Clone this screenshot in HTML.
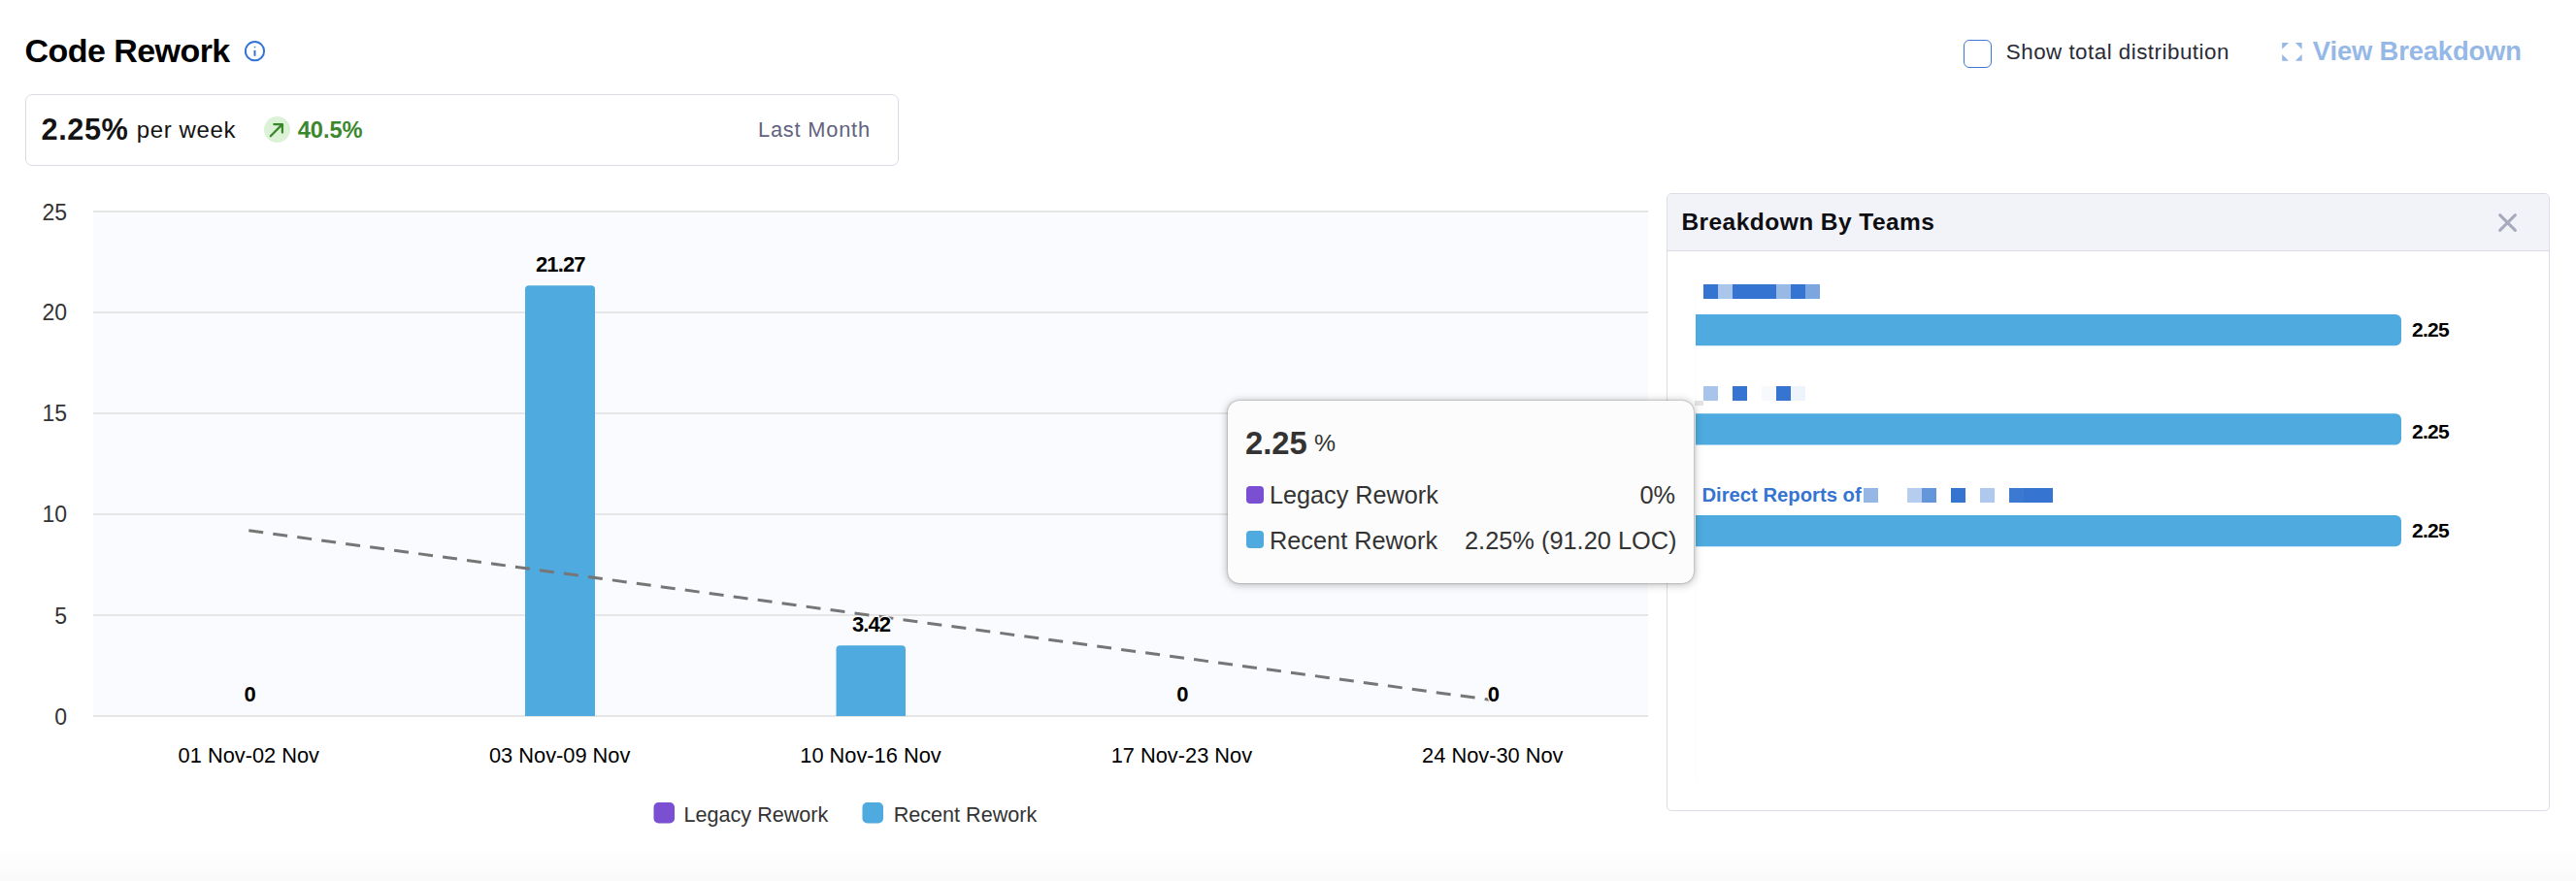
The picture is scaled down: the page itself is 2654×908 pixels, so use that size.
<!DOCTYPE html>
<html><head><meta charset="utf-8">
<style>
*{margin:0;padding:0;box-sizing:border-box}
html,body{width:2654px;height:908px;overflow:hidden;background:#fff;font-family:"Liberation Sans",sans-serif}
.a{position:absolute;white-space:nowrap;line-height:1}
</style></head><body>
<div id="root" style="position:relative;width:2654px;height:908px;background:linear-gradient(to bottom,#fff 0px,#fff 872px,#fafafb 908px)">

<!-- Title -->
<div class="a" id="title" style="left:25.60px;top:34.80px;font-size:34.00px;font-weight:bold;color:#000;letter-spacing:-0.560px">Code Rework</div>
<svg class="a" style="left:250px;top:40px" width="25" height="25" viewBox="0 0 25 25"><circle cx="12.5" cy="12.7" r="9.6" fill="none" stroke="#3574d4" stroke-width="2"/><path d="M11.7 8.4 L13.3 7.6 L13.3 9.1 L11.7 9.6 Z" fill="#3574d4"/><rect x="11.5" y="11.8" width="2" height="6" rx="0.6" fill="#3574d4"/></svg>

<!-- KPI box -->
<div class="a" style="left:26px;top:97px;width:900px;height:74px;border:1.6px solid #dadbe7;border-radius:7px"></div>
<div class="a" id="kpi" style="left:42.60px;top:119.20px;font-size:30.71px;font-weight:bold;color:#131313;letter-spacing:0.550px">2.25%</div>
<div class="a" id="perweek" style="left:140.80px;top:122.20px;font-size:24.01px;color:#131313;letter-spacing:0.600px">per week</div>
<div class="a" style="left:272px;top:120px;width:27px;height:27px;border-radius:50%;background:#dcf2d7"></div>
<svg class="a" style="left:272px;top:120px" width="27" height="27" viewBox="0 0 27 27"><path d="M6.8 20.2 L18.6 8.4 M10.3 8.1 H18.9 V16.6" fill="none" stroke="#3b872e" stroke-width="2.3" stroke-linecap="round" stroke-linejoin="round"/></svg>
<div class="a" id="pct" style="left:306.80px;top:122.60px;font-size:23.67px;font-weight:bold;color:#3b872e;letter-spacing:-0.100px">40.5%</div>
<div class="a" id="lastm" style="left:781.00px;top:123.00px;font-size:21.80px;color:#5f6280;letter-spacing:0.800px">Last Month</div>

<!-- Top right -->
<div class="a" style="left:2023px;top:41px;width:29px;height:29px;border:1.6px solid #3b78d4;border-radius:6px"></div>
<div class="a" id="std" style="left:2066.80px;top:42.80px;font-size:22.36px;color:#2a2b37;letter-spacing:0.491px">Show total distribution</div>
<svg class="a" style="left:2345px;top:38px" width="35" height="30" viewBox="2345 38 35 30"><g fill="#95b8e6"><path d="M2351.2 43.9 H2358 L2351.2 50.7 Z"/><path d="M2371.6 43.9 H2364.8 L2371.6 50.7 Z"/><path d="M2351.2 62.8 H2358 L2351.2 56 Z"/><path d="M2371.6 62.8 H2364.8 L2371.6 56 Z"/></g></svg>
<div class="a" id="vb" style="left:2382.80px;top:39.00px;font-size:27.37px;font-weight:bold;color:#95b8e6;letter-spacing:-0.138px">View Breakdown</div>

<!-- Chart -->
<svg class="a" style="left:0;top:0" width="1710" height="908" viewBox="0 0 1710 908">
  <rect x="96" y="218" width="1602" height="520" fill="#fafbfe"/>
  <g stroke="#e6e6e6" stroke-width="2">
    <line x1="96" y1="218" x2="1698" y2="218"/>
    <line x1="96" y1="322" x2="1698" y2="322"/>
    <line x1="96" y1="426" x2="1698" y2="426"/>
    <line x1="96" y1="530" x2="1698" y2="530"/>
    <line x1="96" y1="634" x2="1698" y2="634"/>
    <line x1="96" y1="738" x2="1698" y2="738"/>
  </g>
  <g font-family="Liberation Sans" font-size="23" fill="#333" text-anchor="end">
    <text x="69" y="226.5">25</text>
    <text x="69" y="330">20</text>
    <text x="69" y="434">15</text>
    <text x="69" y="538">10</text>
    <text x="69" y="642.5">5</text>
    <text x="69" y="746.5">0</text>
  </g>
  <path d="M541 738 V298.3 a4 4 0 0 1 4 -4 H609 a4 4 0 0 1 4 4 V738 Z" fill="#4eaadf"/>
  <path d="M861.5 738 V669.2 a4 4 0 0 1 4 -4 H929 a4 4 0 0 1 4 4 V738 Z" fill="#4eaadf"/>
  <line x1="256.3" y1="546.8" x2="1538" y2="721.6" stroke="#767676" stroke-width="3" stroke-dasharray="15 10.2"/>
  <g font-family="Liberation Sans" font-size="22" letter-spacing="-0.9" font-weight="bold" fill="#000" text-anchor="middle" stroke="#fff" stroke-width="2.5" paint-order="stroke" stroke-linejoin="round">
    <text x="257.2" y="723">0</text>
    <text x="577.3" y="280">21.27</text>
    <text x="897.5" y="651.2">3.42</text>
    <text x="1218" y="723">0</text>
    <text x="1538.5" y="723">0</text>
  </g>
  <g font-family="Liberation Sans" font-size="21.8" fill="#000" text-anchor="middle">
    <text x="256.3" y="786">01 Nov-02 Nov</text>
    <text x="576.7" y="786">03 Nov-09 Nov</text>
    <text x="897" y="786">10 Nov-16 Nov</text>
    <text x="1217.4" y="786">17 Nov-23 Nov</text>
    <text x="1537.8" y="786">24 Nov-30 Nov</text>
  </g>
  <rect x="673.5" y="827" width="21.5" height="21.5" rx="5" fill="#7a4fd1"/>
  <text x="704.5" y="846.7" font-family="Liberation Sans" font-size="21.6" fill="#333">Legacy Rework</text>
  <rect x="888.5" y="827" width="21.5" height="21.5" rx="5" fill="#4eaadf"/>
  <text x="920.7" y="846.7" font-family="Liberation Sans" font-size="21.6" fill="#333">Recent Rework</text>
</svg>

<!-- Breakdown panel -->
<div class="a" style="left:1716.8px;top:198.6px;width:910.2px;height:637.4px;border:1.5px solid #dcdce7;border-radius:5px;background:#fff;overflow:hidden">
  <div style="position:absolute;left:0;top:0;right:0;height:59px;background:#f2f3f8;border-bottom:1.5px solid #dcdce7"></div>
</div>
<div class="a" style="left:1747px;top:290px;width:1px;height:517px;background:#fbfbfc"></div>
<div class="a" id="bbt" style="left:1732.40px;top:217.00px;font-size:24.50px;font-weight:bold;color:#0d0d12;letter-spacing:0.459px">Breakdown By Teams</div>
<svg class="a" style="left:2570px;top:216px" width="27" height="27" viewBox="0 0 27 27"><path d="M5.6 5.6 L21.4 21.4 M21.4 5.6 L5.6 21.4" stroke="#a9a9bd" stroke-width="3" stroke-linecap="round"/></svg>

<div class="a" style="left:1755px;top:293px;width:15px;height:15px;background:#3574d0"></div>
<div class="a" style="left:1770px;top:293px;width:15px;height:15px;background:#abc6eb"></div>
<div class="a" style="left:1785px;top:293px;width:45px;height:15px;background:#3574d0"></div>
<div class="a" style="left:1830px;top:293px;width:15px;height:15px;background:#98b9e6"></div>
<div class="a" style="left:1845px;top:293px;width:15px;height:15px;background:#3574d0"></div>
<div class="a" style="left:1860px;top:293px;width:15px;height:15px;background:#7ba6e0"></div>
<div class="a" style="left:1755px;top:398px;width:15px;height:15px;background:#a9c4eb"></div>
<div class="a" style="left:1785px;top:398px;width:15px;height:15px;background:#3574d0"></div>
<div class="a" style="left:1815px;top:398px;width:15px;height:15px;background:#f7f9fd"></div>
<div class="a" style="left:1830px;top:398px;width:15px;height:15px;background:#3574d0"></div>
<div class="a" style="left:1845px;top:398px;width:15px;height:15px;background:#eef4fc"></div>
<div class="a" style="left:1920px;top:503px;width:15px;height:15px;background:#94b7e6"></div>
<div class="a" style="left:1965px;top:503px;width:15px;height:15px;background:#b5cdee"></div>
<div class="a" style="left:1980px;top:503px;width:15px;height:15px;background:#6596da"></div>
<div class="a" style="left:2010px;top:503px;width:15px;height:15px;background:#3574d0"></div>
<div class="a" style="left:2040px;top:503px;width:15px;height:15px;background:#aec8ee"></div>
<div class="a" style="left:2070px;top:503px;width:15px;height:15px;background:#3b79d2"></div>
<div class="a" style="left:2085px;top:503px;width:30px;height:15px;background:#3574d0"></div>
<div class="a" style="left:1746px;top:413px;width:9px;height:4.5px;background:#e2e2e2"></div>
<div class="a" id="drep" style="left:1753.40px;top:500.40px;font-size:20.26px;font-weight:bold;color:#3574d0">Direct Reports of</div>

<svg class="a" style="left:1700px;top:250px" width="954" height="600" viewBox="1700 250 954 600">
  <path d="M1747 324 H2468 a6 6 0 0 1 6 6 V350.2 a6 6 0 0 1 -6 6 H1747 Z" fill="#4eaadf"/>
  <path d="M1747 426.3 H2468 a6 6 0 0 1 6 6 V452.5 a6 6 0 0 1 -6 6 H1747 Z" fill="#4eaadf"/>
  <path d="M1747 531 H2468 a6 6 0 0 1 6 6 V557.3 a6 6 0 0 1 -6 6 H1747 Z" fill="#4eaadf"/>
  <g font-family="Liberation Sans" font-size="21" letter-spacing="-0.7" font-weight="bold" fill="#000">
    <text x="2485" y="347.3">2.25</text>
    <text x="2485" y="452.3">2.25</text>
    <text x="2485" y="554.1">2.25</text>
  </g>
</svg>

<!-- Tooltip -->
<div class="a" style="left:1265.4px;top:413.3px;width:479.5px;height:187.3px;background:#fcfcfc;border-radius:12px;box-shadow:0 0 2px rgba(0,0,0,0.4),0 1px 8px 1px rgba(0,0,0,0.26)"></div>
<div class="a" id="tt1" style="left:1283.00px;top:441.00px;font-size:32.80px;font-weight:bold;color:#333">2.25</div>
<div class="a" id="tt1b" style="left:1354.00px;top:445.00px;font-size:24.81px;color:#333">%</div>
<div class="a" style="left:1284px;top:501px;width:18px;height:18px;border-radius:4px;background:#7a4fd1"></div>
<div class="a" id="tt2" style="left:1308.00px;top:497.60px;font-size:25.22px;color:#333">Legacy Rework</div>
<div class="a" id="tt2b" style="left:1689.40px;top:497.80px;font-size:25.3px;color:#333">0%</div>
<div class="a" style="left:1284px;top:547.3px;width:18px;height:18px;border-radius:4px;background:#4eaadf"></div>
<div class="a" id="tt3" style="left:1308.00px;top:545.00px;font-size:25.32px;color:#333">Recent Rework</div>
<div class="a" id="tt3b" style="left:1509.00px;top:545.00px;font-size:25.36px;color:#333">2.25% (91.20 LOC)</div>

</div>
</body></html>
